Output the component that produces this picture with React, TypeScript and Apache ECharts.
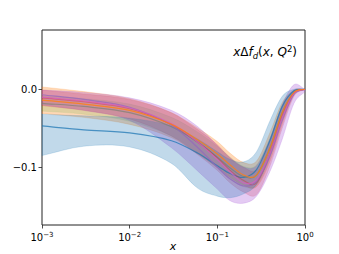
import React, { useEffect, useRef } from "react";
import * as echarts from "echarts";

// x grid (log scale)
const xs = [0.001, 0.003, 0.01, 0.03, 0.06, 0.1, 0.14, 0.2, 0.28, 0.4, 0.55, 0.75, 1.0];

const blueMid = [-0.047, -0.052, -0.056, -0.066, -0.082, -0.098, -0.108, -0.113, -0.103, -0.065, -0.022, -0.002, 0];
const blueLo = [-0.085, -0.073, -0.074, -0.095, -0.127, -0.137, -0.139, -0.134, -0.122, -0.085, -0.035, -0.005, 0];
const blueHi = [-0.032, -0.034, -0.037, -0.047, -0.064, -0.080, -0.090, -0.093, -0.080, -0.040, -0.009, 0, 0];

const orangeMid = [-0.014, -0.019, -0.027, -0.045, -0.065, -0.083, -0.097, -0.110, -0.110, -0.075, -0.030, -0.004, 0];
const orangeLo = [-0.031, -0.036, -0.045, -0.062, -0.083, -0.100, -0.113, -0.123, -0.125, -0.092, -0.045, -0.007, 0];
const orangeHi = [0.003, -0.003, -0.012, -0.030, -0.050, -0.067, -0.082, -0.094, -0.092, -0.055, -0.017, -0.001, 0];

const greenMid = [-0.018, -0.022, -0.030, -0.048, -0.068, -0.087, -0.101, -0.112, -0.110, -0.075, -0.030, -0.004, 0];
const greenLo = [-0.028, -0.032, -0.041, -0.060, -0.082, -0.101, -0.115, -0.125, -0.123, -0.088, -0.040, -0.007, 0];
const greenHi = [-0.008, -0.012, -0.019, -0.036, -0.055, -0.073, -0.087, -0.099, -0.097, -0.062, -0.020, -0.001, 0];

const redMid = [-0.011, -0.016, -0.025, -0.045, -0.068, -0.088, -0.104, -0.117, -0.120, -0.082, -0.035, -0.005, 0];
const redLo = [-0.021, -0.027, -0.038, -0.060, -0.084, -0.104, -0.120, -0.132, -0.135, -0.098, -0.050, -0.009, 0];
const redHi = [-0.001, -0.006, -0.013, -0.030, -0.052, -0.071, -0.088, -0.100, -0.103, -0.065, -0.022, -0.002, 0];

const purpleMid = [-0.007, -0.013, -0.023, -0.046, -0.075, -0.100, -0.115, -0.124, -0.118, -0.085, -0.040, -0.006, 0];
const purpleLo = [-0.020, -0.027, -0.040, -0.075, -0.105, -0.128, -0.143, -0.146, -0.137, -0.105, -0.064, -0.018, -0.003];
const purpleHi = [-0.001, -0.004, -0.011, -0.027, -0.048, -0.072, -0.088, -0.100, -0.098, -0.063, -0.020, 0.006, 0];

const pinkMid = [-0.010, -0.015, -0.024, -0.044, -0.068, -0.090, -0.106, -0.120, -0.116, -0.082, -0.036, -0.005, 0];

const yTicks = [0, -0.1];
const xMinorTicks = [-3, -2, -1].flatMap((e) => [2, 3, 4, 5, 6, 7, 8, 9].map((m) => m * Math.pow(10, e)));

type Pt = number[];
function spline(ctx: any, pts: Pt[], move: boolean) {
  const n = pts.length;
  const m: number[] = [];
  for (let i = 0; i < n; i++) {
    const a = pts[Math.max(0, i - 1)];
    const b = pts[Math.min(n - 1, i + 1)];
    const dx = b[0] - a[0];
    m.push(dx === 0 ? 0 : (b[1] - a[1]) / dx);
  }
  if (move) ctx.moveTo(pts[0][0], pts[0][1]);
  else ctx.lineTo(pts[0][0], pts[0][1]);
  for (let i = 0; i < n - 1; i++) {
    const h = pts[i + 1][0] - pts[i][0];
    ctx.bezierCurveTo(
      pts[i][0] + h / 3, pts[i][1] + (m[i] * h) / 3,
      pts[i + 1][0] - h / 3, pts[i + 1][1] - (m[i + 1] * h) / 3,
      pts[i + 1][0], pts[i + 1][1]
    );
  }
}

let registered = false;
function registerShapes() {
  if (registered) return;
  registered = true;
  echarts.graphic.registerShape(
    "bandShape",
    echarts.graphic.extendShape({
      shape: { upper: [], lower: [] },
      buildPath(ctx: any, shape: any) {
        spline(ctx, shape.upper, true);
        spline(ctx, shape.lower.slice().reverse(), false);
        ctx.closePath();
      },
    } as any)
  );
  echarts.graphic.registerShape(
    "curveShape",
    echarts.graphic.extendShape({
      shape: { pts: [] },
      buildPath(ctx: any, shape: any) {
        spline(ctx, shape.pts, true);
      },
    } as any)
  );
}

const bands = [
  { name: "orange", color: "#ff7f0e", alpha: 0.3, lo: orangeLo, hi: orangeHi },
  { name: "green", color: "#2ca02c", alpha: 0.15, lo: greenLo, hi: greenHi },
  { name: "red", color: "#d62728", alpha: 0.22, lo: redLo, hi: redHi },
  { name: "purple", color: "#a552d8", alpha: 0.3, lo: purpleLo, hi: purpleHi },
  { name: "blue", color: "#1f77b4", alpha: 0.28, lo: blueLo, hi: blueHi },
];
const lines = [
  { name: "blue", color: "#1f77b4", opacity: 0.75, mid: blueMid },
  { name: "green", color: "#6f7f6a", opacity: 0.6, mid: greenMid },
  { name: "red", color: "#d62728", opacity: 0.4, mid: redMid },
  { name: "purple", color: "#9467bd", opacity: 0.75, mid: purpleMid },
  { name: "pink", color: "#d65fc0", opacity: 0.75, mid: pinkMid },
  { name: "orange", color: "#ff7f0e", opacity: 0.8, mid: orangeMid },
];

function hexToRgba(hex: string, a: number) {
  const r = parseInt(hex.slice(1, 3), 16);
  const g = parseInt(hex.slice(3, 5), 16);
  const b = parseInt(hex.slice(5, 7), 16);
  return `rgba(${r},${g},${b},${a})`;
}

function supMinus(e: number) {
  return e < 0 ? "\u2212" + -e : String(e);
}

export default function App() {
  const ref = useRef<HTMLDivElement>(null);
  useEffect(() => {
    if (!ref.current) return;
    registerShapes();
    const chart = echarts.init(ref.current, undefined, { renderer: "svg" });

    const bandSeries = bands.map((s, k) => ({
      type: "custom",
      name: s.name + " band",
      coordinateSystem: "cartesian2d",
      silent: true,
      z: 2 + k * 0.01,
      encode: { x: 0, y: [1, 2] },
      data: xs.map((x, i) => [x, s.lo[i], s.hi[i]]),
      renderItem: (params: any, api: any) => {
        if (params.dataIndex !== 0) return null;
        const upper = xs.map((x, i) => api.coord([x, s.hi[i]]));
        const lower = xs.map((x, i) => api.coord([x, s.lo[i]]));
        return {
          type: "bandShape",
          shape: { upper, lower },
          style: { fill: hexToRgba(s.color, s.alpha), stroke: hexToRgba(s.color, s.alpha), lineWidth: 0.6 },
        };
      },
    }));

    const lineSeries = lines.map((s, k) => ({
      type: "custom",
      name: s.name + " line",
      coordinateSystem: "cartesian2d",
      silent: true,
      z: 3 + k * 0.01,
      encode: { x: 0, y: 1 },
      data: xs.map((x, i) => [x, s.mid[i]]),
      renderItem: (params: any, api: any) => {
        if (params.dataIndex !== 0) return null;
        const pts = xs.map((x, i) => api.coord([x, s.mid[i]]));
        return {
          type: "curveShape",
          shape: { pts },
          style: { fill: "none", stroke: s.color, lineWidth: 1.2, opacity: s.opacity },
        };
      },
    }));

    const option: any = {
      animation: false,
      grid: {
        left: 42, right: 34, top: 30, bottom: 29,
        containLabel: false,
        outerBoundsMode: "none",
        show: true, borderColor: "#222", borderWidth: 1, backgroundColor: "transparent",
      },
      xAxis: [
        {
          type: "log",
          logBase: 10,
          min: 0.001,
          max: 1,
          axisLine: { show: false, onZero: false },
          splitLine: { show: false },
          axisTick: { show: true, length: 3.5, inside: false, lineStyle: { color: "#222", width: 0.8 } },
          axisLabel: {
            margin: 6,
            fontFamily: "DejaVu Sans",
            formatter: (v: number) => `{b|10}{s|${supMinus(Math.round(Math.log10(v)))}}`,
            rich: {
              b: { fontFamily: "DejaVu Sans", fontSize: 10, color: "#000", lineHeight: 12 },
              s: { fontFamily: "DejaVu Sans", fontSize: 7, color: "#000", verticalAlign: "top", lineHeight: 12, padding: [0, 0, 5, 0] },
            },
          },
        },
        {
          type: "log",
          logBase: 10,
          min: 0.001,
          max: 1,
          position: "bottom",
          axisLine: { show: false, onZero: false },
          splitLine: { show: false },
          axisLabel: { show: false },
          axisTick: {
            show: true,
            length: 2,
            customValues: xMinorTicks.map((v) => Math.log10(v)),
            lineStyle: { color: "#222", width: 0.6 },
          },
        },
      ],
      yAxis: {
        type: "value",
        min: -0.174,
        max: 0.076,
        axisLine: { show: false, onZero: false },
        splitLine: { show: false },
        axisTick: { show: true, length: 3.5, customValues: yTicks, lineStyle: { color: "#222", width: 0.8 } },
        axisLabel: {
          customValues: yTicks,
          margin: 5,
          fontFamily: "DejaVu Sans",
          fontSize: 10,
          color: "#000",
          formatter: (v: number) => (v < 0 ? "\u2212" + Math.abs(v).toFixed(1) : v.toFixed(1)),
        },
      },
      graphic: [
        {
          type: "text",
          x: 297,
          y: 52,
          style: {
            text: "{i|x}{u|Δ}{i|f}{sb|d}{u|(}{i|x}{u|, }{i|Q}{sp|2}{u|)}",
            align: "right",
            verticalAlign: "middle",
            rich: {
              i: { fontFamily: "DejaVu Sans", fontStyle: "italic", fontSize: 12, color: "#000", lineHeight: 16 },
              u: { fontFamily: "DejaVu Sans", fontSize: 12, color: "#000", lineHeight: 16 },
              sb: { fontFamily: "DejaVu Sans", fontStyle: "italic", fontSize: 8.5, color: "#000", verticalAlign: "bottom", lineHeight: 16, padding: [4, 0, 0, 0] },
              sp: { fontFamily: "DejaVu Sans", fontSize: 8.5, color: "#000", verticalAlign: "top", lineHeight: 16, padding: [0, 0, 6, 0] },
            },
          },
          z: 10,
        },
        {
          type: "text",
          x: 173,
          y: 246,
          style: {
            text: "x",
            align: "center",
            verticalAlign: "middle",
            fontFamily: "DejaVu Sans",
            fontStyle: "italic",
            fontSize: 11,
            fill: "#000",
          },
          z: 10,
        },
      ],
      series: [...bandSeries, ...lineSeries],
    };
    chart.setOption(option);
    return () => chart.dispose();
  }, []);
  return <div ref={ref} style={{ width: 339, height: 254, marginTop: -8, marginLeft: -8 }} />;
}
